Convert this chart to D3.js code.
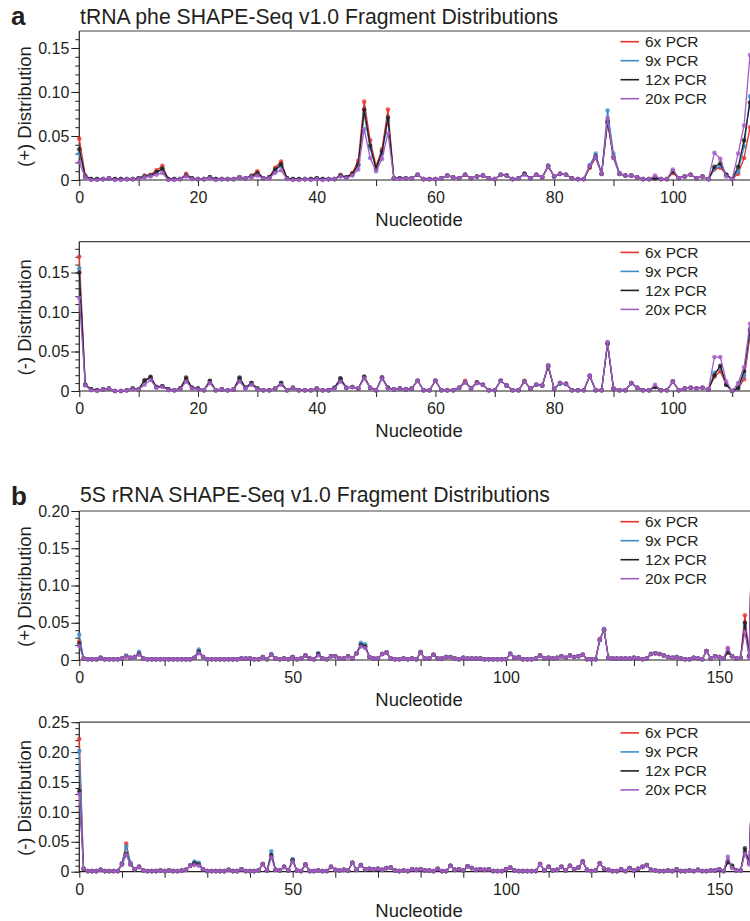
<!DOCTYPE html>
<html>
<head>
<meta charset="utf-8">
<script src="https://cdn.jsdelivr.net/npm/d3@7"></script>
<style>
  body { margin: 0; background: #fff; }
  svg { display: block; }
  text { font-family: "Liberation Sans", Arial, Helvetica, sans-serif; fill: #231f20; }
</style>
</head>
<body>
<svg id="chart" width="750" height="921"></svg>
<script>
// ---- series ----
const seriesNames = ["6x PCR", "9x PCR", "12x PCR", "20x PCR"];
const seriesColors = ["#e8322c", "#3a8fca", "#231f20", "#a45dc4"];

// ---- nucleotide positions ----
const trnaNucleotides = d3.range(0, 114);
const rrnaNucleotides = d3.range(0, 159);

// ---- tick labels ----
const trnaXTicks = [0, 20, 40, 60, 80, 100];
const trnaXMinorTicks = [10, 30, 50, 70, 90, 110];
const rrnaXTicks = [0, 50, 100, 150];
const rrnaXMinorTicks = [10, 20, 30, 40, 60, 70, 80, 90, 110, 120, 130, 140];
const trnaPlusYTicks = [0, 0.05, 0.10, 0.15];
const trnaMinusYTicks = [0, 0.05, 0.10, 0.15];
const rrnaPlusYTicks = [0, 0.05, 0.10, 0.15, 0.20];
const rrnaMinusYTicks = [0, 0.05, 0.10, 0.15, 0.20, 0.25];

// ---- tRNA phe, (+) channel ----
const trnaPlus6x = [
0.047,0.005,0.001,0.001,0.001,0.002,0.001,0.001,0.001,0.001,
0.002,0.005,0.006,0.011,0.016,0.001,0.001,0.001,0.007,0.002,
0.001,0.001,0.003,0.001,0.001,0.001,0.001,0.003,0.002,0.005,
0.010,0.002,0.003,0.014,0.021,0.002,0.001,0.001,0.001,0.001,
0.002,0.001,0.001,0.001,0.006,0.003,0.008,0.022,0.089,0.045,
0.016,0.035,0.080,0.002,0.002,0.002,0.002,0.006,0.001,0.001,
0.001,0.002,0.005,0.003,0.002,0.006,0.002,0.004,0.005,0.002,
0.001,0.006,0.005,0.001,0.002,0.007,0.002,0.006,0.003,0.015,
0.004,0.007,0.006,0.002,0.001,0.001,0.014,0.025,0.007,0.066,
0.025,0.007,0.005,0.005,0.003,0.001,0.001,0.002,0.001,0.001,
0.008,0.002,0.004,0.006,0.002,0.004,0.001,0.012,0.014,0.006,
0.001,0.007,0.025,0.060];
const trnaPlus9x = [
0.030,0.004,0.001,0.001,0.001,0.002,0.001,0.001,0.001,0.001,
0.002,0.004,0.005,0.008,0.012,0.001,0.001,0.001,0.005,0.002,
0.001,0.001,0.003,0.001,0.001,0.001,0.001,0.003,0.002,0.004,
0.007,0.002,0.003,0.011,0.016,0.002,0.001,0.001,0.001,0.001,
0.002,0.001,0.001,0.001,0.005,0.003,0.006,0.016,0.075,0.036,
0.012,0.030,0.068,0.002,0.002,0.002,0.002,0.006,0.001,0.001,
0.001,0.002,0.005,0.003,0.002,0.006,0.002,0.004,0.005,0.002,
0.001,0.006,0.005,0.001,0.002,0.007,0.002,0.006,0.003,0.016,
0.004,0.007,0.006,0.002,0.001,0.001,0.017,0.030,0.007,0.079,
0.030,0.008,0.005,0.005,0.003,0.001,0.001,0.002,0.001,0.001,
0.010,0.002,0.004,0.006,0.002,0.004,0.001,0.013,0.016,0.006,
0.001,0.010,0.038,0.095];
const trnaPlus12x = [
0.035,0.004,0.001,0.001,0.001,0.002,0.001,0.001,0.001,0.001,
0.002,0.004,0.005,0.009,0.013,0.001,0.001,0.001,0.005,0.002,
0.001,0.001,0.003,0.001,0.001,0.001,0.001,0.003,0.002,0.004,
0.008,0.002,0.003,0.012,0.018,0.002,0.001,0.001,0.001,0.001,
0.002,0.001,0.001,0.001,0.005,0.003,0.007,0.018,0.080,0.039,
0.013,0.032,0.071,0.002,0.002,0.002,0.002,0.006,0.001,0.001,
0.001,0.002,0.005,0.003,0.002,0.006,0.002,0.004,0.005,0.002,
0.001,0.006,0.005,0.001,0.002,0.007,0.002,0.006,0.003,0.016,
0.004,0.007,0.006,0.002,0.001,0.001,0.015,0.027,0.007,0.066,
0.026,0.007,0.005,0.005,0.003,0.001,0.001,0.002,0.001,0.001,
0.010,0.002,0.004,0.006,0.002,0.004,0.001,0.015,0.019,0.006,
0.001,0.015,0.045,0.088];
const trnaPlus20x = [
0.020,0.003,0.000,0.000,0.001,0.002,0.000,0.000,0.001,0.001,
0.001,0.003,0.004,0.006,0.008,0.000,0.000,0.001,0.004,0.001,
0.001,0.001,0.002,0.000,0.001,0.001,0.001,0.003,0.002,0.003,
0.005,0.002,0.002,0.008,0.011,0.001,0.000,0.000,0.001,0.000,
0.001,0.000,0.001,0.001,0.004,0.002,0.005,0.012,0.058,0.025,
0.010,0.024,0.053,0.002,0.001,0.002,0.002,0.006,0.001,0.001,
0.001,0.002,0.005,0.003,0.002,0.006,0.002,0.004,0.005,0.002,
0.001,0.006,0.005,0.001,0.002,0.006,0.002,0.006,0.003,0.016,
0.004,0.007,0.006,0.002,0.001,0.001,0.016,0.026,0.007,0.070,
0.026,0.007,0.005,0.005,0.003,0.001,0.001,0.005,0.001,0.001,
0.012,0.002,0.004,0.006,0.002,0.004,0.001,0.031,0.024,0.004,
0.001,0.030,0.062,0.142];

// ---- tRNA phe, (-) channel ----
const trnaMinus6x = [
0.170,0.008,0.002,0.001,0.002,0.003,0.000,0.000,0.001,0.003,
0.002,0.014,0.017,0.005,0.006,0.002,0.001,0.003,0.015,0.004,
0.003,0.001,0.012,0.001,0.002,0.001,0.002,0.015,0.004,0.010,
0.003,0.001,0.001,0.003,0.010,0.001,0.004,0.001,0.001,0.001,
0.003,0.001,0.001,0.004,0.015,0.004,0.005,0.003,0.018,0.004,
0.001,0.017,0.004,0.002,0.003,0.002,0.003,0.013,0.001,0.001,
0.013,0.001,0.001,0.001,0.004,0.013,0.003,0.011,0.008,0.001,
0.001,0.013,0.007,0.001,0.001,0.013,0.003,0.008,0.007,0.031,
0.003,0.010,0.009,0.001,0.001,0.001,0.019,0.001,0.001,0.060,
0.003,0.001,0.001,0.010,0.004,0.001,0.001,0.005,0.001,0.001,
0.012,0.001,0.003,0.004,0.003,0.004,0.002,0.018,0.025,0.008,
0.000,0.003,0.015,0.070];
const trnaMinus9x = [
0.155,0.008,0.002,0.001,0.002,0.003,0.000,0.000,0.001,0.003,
0.002,0.013,0.016,0.005,0.006,0.002,0.001,0.003,0.014,0.004,
0.003,0.001,0.012,0.001,0.002,0.001,0.002,0.016,0.004,0.010,
0.003,0.001,0.001,0.003,0.010,0.001,0.004,0.001,0.001,0.001,
0.003,0.001,0.001,0.004,0.015,0.004,0.005,0.003,0.017,0.004,
0.001,0.016,0.004,0.002,0.003,0.002,0.003,0.013,0.001,0.001,
0.013,0.001,0.001,0.001,0.004,0.011,0.003,0.010,0.008,0.001,
0.001,0.013,0.007,0.001,0.001,0.012,0.003,0.008,0.007,0.031,
0.003,0.009,0.009,0.001,0.001,0.001,0.019,0.001,0.001,0.061,
0.003,0.001,0.001,0.010,0.004,0.001,0.001,0.005,0.001,0.001,
0.012,0.001,0.003,0.004,0.003,0.004,0.002,0.023,0.030,0.008,
0.000,0.003,0.020,0.075];
const trnaMinus12x = [
0.150,0.008,0.002,0.001,0.002,0.003,0.000,0.000,0.001,0.003,
0.002,0.013,0.018,0.005,0.006,0.002,0.001,0.003,0.017,0.004,
0.003,0.001,0.013,0.001,0.002,0.001,0.002,0.017,0.004,0.010,
0.003,0.001,0.001,0.003,0.010,0.001,0.004,0.001,0.001,0.001,
0.003,0.001,0.001,0.004,0.016,0.004,0.005,0.003,0.018,0.004,
0.001,0.017,0.004,0.002,0.003,0.002,0.003,0.013,0.001,0.001,
0.013,0.001,0.001,0.001,0.004,0.011,0.003,0.011,0.008,0.001,
0.001,0.013,0.007,0.001,0.001,0.012,0.003,0.008,0.007,0.032,
0.003,0.010,0.009,0.001,0.001,0.001,0.019,0.001,0.001,0.060,
0.003,0.001,0.001,0.010,0.004,0.001,0.001,0.005,0.001,0.001,
0.012,0.001,0.003,0.004,0.003,0.004,0.002,0.020,0.032,0.008,
0.000,0.004,0.025,0.078];
const trnaMinus20x = [
0.118,0.007,0.001,0.000,0.002,0.003,0.000,0.000,0.001,0.002,
0.002,0.008,0.014,0.004,0.005,0.001,0.001,0.002,0.012,0.003,
0.002,0.001,0.010,0.001,0.002,0.001,0.002,0.012,0.003,0.008,
0.002,0.001,0.001,0.003,0.008,0.001,0.004,0.001,0.001,0.001,
0.003,0.001,0.001,0.003,0.012,0.004,0.005,0.003,0.016,0.004,
0.001,0.016,0.003,0.002,0.003,0.002,0.003,0.013,0.001,0.001,
0.013,0.001,0.001,0.001,0.004,0.011,0.003,0.010,0.008,0.001,
0.001,0.013,0.007,0.001,0.001,0.012,0.003,0.008,0.007,0.033,
0.003,0.010,0.009,0.001,0.001,0.001,0.020,0.001,0.001,0.062,
0.003,0.001,0.001,0.010,0.004,0.001,0.001,0.008,0.001,0.001,
0.012,0.001,0.003,0.004,0.003,0.004,0.002,0.043,0.043,0.012,
0.000,0.010,0.030,0.085];

// ---- 5S rRNA, (+) channel ----
const rrnaPlus6x = [
0.025,0.002,0.001,0.001,0.001,0.003,0.001,0.001,0.001,0.001,
0.002,0.005,0.003,0.004,0.009,0.002,0.001,0.001,0.001,0.001,
0.001,0.001,0.001,0.001,0.001,0.001,0.001,0.003,0.012,0.004,
0.001,0.001,0.001,0.001,0.001,0.001,0.001,0.001,0.002,0.002,
0.002,0.001,0.001,0.004,0.001,0.007,0.002,0.001,0.002,0.001,
0.004,0.001,0.002,0.006,0.002,0.001,0.008,0.002,0.001,0.005,
0.005,0.002,0.002,0.005,0.002,0.009,0.021,0.018,0.004,0.002,
0.002,0.008,0.010,0.002,0.001,0.001,0.002,0.001,0.002,0.001,
0.010,0.002,0.002,0.007,0.002,0.002,0.004,0.004,0.002,0.001,
0.003,0.002,0.002,0.002,0.002,0.001,0.001,0.001,0.001,0.001,
0.001,0.008,0.003,0.004,0.001,0.001,0.001,0.002,0.006,0.002,
0.003,0.002,0.003,0.005,0.003,0.006,0.004,0.005,0.007,0.001,
0.001,0.001,0.028,0.041,0.003,0.002,0.002,0.002,0.002,0.002,
0.003,0.002,0.001,0.002,0.008,0.009,0.008,0.006,0.004,0.003,
0.004,0.002,0.001,0.001,0.003,0.002,0.001,0.012,0.002,0.005,
0.004,0.002,0.015,0.005,0.002,0.003,0.060,0.006,0.270];
const rrnaPlus9x = [
0.034,0.002,0.001,0.001,0.001,0.003,0.001,0.001,0.001,0.001,
0.002,0.006,0.003,0.004,0.011,0.002,0.001,0.001,0.001,0.001,
0.001,0.001,0.001,0.001,0.001,0.001,0.001,0.003,0.014,0.004,
0.001,0.001,0.001,0.001,0.001,0.001,0.001,0.001,0.002,0.002,
0.002,0.001,0.001,0.004,0.001,0.008,0.002,0.001,0.002,0.001,
0.004,0.001,0.002,0.006,0.002,0.001,0.009,0.002,0.001,0.005,
0.005,0.002,0.002,0.005,0.002,0.009,0.023,0.021,0.004,0.002,
0.002,0.008,0.010,0.002,0.001,0.001,0.002,0.001,0.002,0.001,
0.011,0.002,0.002,0.007,0.002,0.002,0.004,0.004,0.002,0.001,
0.003,0.002,0.002,0.002,0.002,0.001,0.001,0.001,0.001,0.001,
0.001,0.009,0.003,0.004,0.001,0.001,0.001,0.002,0.006,0.002,
0.003,0.002,0.003,0.005,0.003,0.006,0.004,0.005,0.007,0.001,
0.001,0.001,0.027,0.042,0.003,0.002,0.002,0.002,0.002,0.002,
0.003,0.002,0.001,0.002,0.008,0.009,0.008,0.006,0.004,0.003,
0.004,0.002,0.001,0.001,0.003,0.002,0.001,0.012,0.002,0.005,
0.004,0.002,0.012,0.005,0.002,0.003,0.046,0.005,0.240];
const rrnaPlus12x = [
0.022,0.002,0.001,0.001,0.001,0.003,0.001,0.001,0.001,0.001,
0.002,0.005,0.003,0.004,0.008,0.002,0.001,0.001,0.001,0.001,
0.001,0.001,0.001,0.001,0.001,0.001,0.001,0.003,0.011,0.004,
0.001,0.001,0.001,0.001,0.001,0.001,0.001,0.001,0.002,0.002,
0.002,0.001,0.001,0.004,0.001,0.007,0.002,0.001,0.002,0.001,
0.004,0.001,0.002,0.006,0.002,0.001,0.008,0.002,0.001,0.005,
0.005,0.002,0.002,0.005,0.002,0.009,0.020,0.018,0.004,0.002,
0.002,0.008,0.010,0.002,0.001,0.001,0.002,0.001,0.002,0.001,
0.010,0.002,0.002,0.007,0.002,0.002,0.004,0.004,0.002,0.001,
0.003,0.002,0.002,0.002,0.002,0.001,0.001,0.001,0.001,0.001,
0.001,0.008,0.003,0.004,0.001,0.001,0.001,0.002,0.006,0.002,
0.003,0.002,0.003,0.005,0.003,0.006,0.004,0.005,0.007,0.001,
0.001,0.001,0.027,0.040,0.003,0.002,0.002,0.002,0.002,0.002,
0.003,0.002,0.001,0.002,0.008,0.009,0.008,0.006,0.004,0.003,
0.004,0.002,0.001,0.001,0.003,0.002,0.001,0.012,0.002,0.005,
0.004,0.002,0.010,0.005,0.002,0.003,0.050,0.005,0.250];
const rrnaPlus20x = [
0.019,0.002,0.001,0.001,0.001,0.003,0.001,0.001,0.001,0.001,
0.002,0.005,0.003,0.004,0.007,0.002,0.001,0.001,0.001,0.001,
0.001,0.001,0.001,0.001,0.001,0.001,0.001,0.003,0.009,0.004,
0.001,0.001,0.001,0.001,0.001,0.001,0.001,0.001,0.002,0.002,
0.002,0.001,0.001,0.004,0.001,0.007,0.002,0.001,0.002,0.001,
0.004,0.001,0.002,0.006,0.002,0.001,0.006,0.002,0.001,0.005,
0.005,0.002,0.002,0.005,0.002,0.009,0.018,0.016,0.004,0.002,
0.002,0.008,0.010,0.002,0.001,0.001,0.002,0.001,0.002,0.001,
0.010,0.002,0.002,0.007,0.002,0.002,0.004,0.004,0.002,0.001,
0.003,0.002,0.002,0.002,0.002,0.001,0.001,0.001,0.001,0.001,
0.001,0.008,0.003,0.004,0.001,0.001,0.001,0.002,0.006,0.002,
0.003,0.002,0.003,0.005,0.003,0.006,0.004,0.005,0.007,0.001,
0.001,0.001,0.027,0.041,0.003,0.002,0.002,0.002,0.002,0.002,
0.003,0.002,0.001,0.002,0.008,0.009,0.008,0.006,0.004,0.003,
0.004,0.002,0.001,0.001,0.003,0.002,0.001,0.012,0.002,0.005,
0.004,0.002,0.016,0.005,0.002,0.003,0.038,0.003,0.260];

// ---- 5S rRNA, (-) channel ----
const rrnaMinus6x = [
0.222,0.005,0.001,0.001,0.001,0.003,0.001,0.001,0.001,0.001,
0.014,0.047,0.013,0.004,0.008,0.002,0.001,0.001,0.001,0.002,
0.001,0.002,0.001,0.001,0.002,0.003,0.010,0.014,0.012,0.004,
0.001,0.001,0.001,0.001,0.001,0.003,0.001,0.001,0.004,0.001,
0.001,0.001,0.002,0.013,0.002,0.026,0.003,0.002,0.008,0.002,
0.019,0.002,0.001,0.012,0.001,0.001,0.002,0.001,0.001,0.008,
0.003,0.002,0.003,0.002,0.015,0.003,0.011,0.004,0.005,0.004,
0.005,0.003,0.006,0.007,0.002,0.001,0.002,0.001,0.004,0.003,
0.004,0.002,0.002,0.001,0.005,0.001,0.001,0.010,0.003,0.004,
0.002,0.009,0.006,0.003,0.004,0.003,0.004,0.001,0.001,0.001,
0.004,0.007,0.002,0.001,0.001,0.001,0.001,0.001,0.013,0.002,
0.008,0.002,0.003,0.008,0.002,0.010,0.004,0.007,0.017,0.003,
0.001,0.002,0.014,0.005,0.003,0.001,0.001,0.004,0.001,0.006,
0.002,0.005,0.008,0.011,0.003,0.002,0.001,0.001,0.002,0.001,
0.004,0.001,0.001,0.002,0.001,0.003,0.001,0.001,0.002,0.002,
0.004,0.001,0.018,0.008,0.002,0.002,0.034,0.015,0.220];
const rrnaMinus9x = [
0.202,0.005,0.001,0.001,0.001,0.003,0.001,0.001,0.001,0.001,
0.014,0.042,0.015,0.004,0.008,0.002,0.001,0.001,0.001,0.002,
0.001,0.002,0.001,0.001,0.002,0.003,0.011,0.017,0.015,0.004,
0.001,0.001,0.001,0.001,0.001,0.003,0.001,0.001,0.004,0.001,
0.001,0.001,0.002,0.013,0.002,0.034,0.003,0.002,0.008,0.002,
0.021,0.002,0.001,0.012,0.001,0.001,0.002,0.001,0.001,0.008,
0.003,0.002,0.003,0.002,0.015,0.003,0.011,0.004,0.005,0.004,
0.005,0.003,0.006,0.007,0.002,0.001,0.002,0.001,0.004,0.003,
0.004,0.002,0.002,0.001,0.005,0.001,0.001,0.010,0.003,0.004,
0.002,0.009,0.006,0.003,0.004,0.003,0.004,0.001,0.001,0.001,
0.004,0.007,0.002,0.001,0.001,0.001,0.001,0.001,0.013,0.002,
0.008,0.002,0.003,0.008,0.002,0.010,0.004,0.007,0.017,0.003,
0.001,0.002,0.014,0.005,0.003,0.001,0.001,0.004,0.001,0.006,
0.002,0.005,0.008,0.011,0.003,0.002,0.001,0.001,0.002,0.001,
0.004,0.001,0.001,0.002,0.001,0.003,0.001,0.001,0.002,0.002,
0.004,0.001,0.018,0.010,0.002,0.002,0.033,0.015,0.210];
const rrnaMinus12x = [
0.135,0.005,0.001,0.001,0.001,0.003,0.001,0.001,0.001,0.001,
0.012,0.030,0.012,0.004,0.008,0.002,0.001,0.001,0.001,0.002,
0.001,0.002,0.001,0.001,0.002,0.003,0.010,0.014,0.012,0.004,
0.001,0.001,0.001,0.001,0.001,0.003,0.001,0.001,0.004,0.001,
0.001,0.001,0.002,0.013,0.002,0.028,0.003,0.002,0.008,0.002,
0.019,0.002,0.001,0.012,0.001,0.001,0.002,0.001,0.001,0.008,
0.003,0.002,0.003,0.002,0.015,0.003,0.011,0.004,0.005,0.004,
0.005,0.003,0.006,0.007,0.002,0.001,0.002,0.001,0.004,0.003,
0.004,0.002,0.002,0.001,0.005,0.001,0.001,0.010,0.003,0.004,
0.002,0.009,0.006,0.003,0.004,0.003,0.004,0.001,0.001,0.001,
0.004,0.007,0.002,0.001,0.001,0.001,0.001,0.001,0.013,0.002,
0.008,0.002,0.003,0.008,0.002,0.010,0.004,0.007,0.017,0.003,
0.001,0.002,0.014,0.005,0.003,0.001,0.001,0.004,0.001,0.006,
0.002,0.005,0.008,0.011,0.003,0.002,0.001,0.001,0.002,0.001,
0.004,0.001,0.001,0.002,0.001,0.003,0.001,0.001,0.002,0.002,
0.004,0.001,0.016,0.010,0.002,0.002,0.039,0.015,0.220];
const rrnaMinus20x = [
0.130,0.005,0.001,0.001,0.001,0.003,0.001,0.001,0.001,0.001,
0.012,0.028,0.012,0.004,0.008,0.002,0.001,0.001,0.001,0.002,
0.001,0.002,0.001,0.001,0.002,0.003,0.010,0.011,0.010,0.004,
0.001,0.001,0.001,0.001,0.001,0.003,0.001,0.001,0.004,0.001,
0.001,0.001,0.002,0.013,0.002,0.024,0.003,0.002,0.008,0.002,
0.017,0.002,0.001,0.012,0.001,0.001,0.002,0.001,0.001,0.008,
0.003,0.002,0.003,0.002,0.015,0.003,0.011,0.004,0.005,0.004,
0.005,0.003,0.006,0.007,0.002,0.001,0.002,0.001,0.004,0.003,
0.004,0.002,0.002,0.001,0.005,0.001,0.001,0.010,0.003,0.004,
0.002,0.009,0.006,0.003,0.004,0.003,0.004,0.001,0.001,0.001,
0.004,0.007,0.002,0.001,0.001,0.001,0.001,0.001,0.013,0.002,
0.008,0.002,0.003,0.008,0.002,0.010,0.004,0.007,0.017,0.003,
0.001,0.002,0.014,0.005,0.003,0.001,0.001,0.004,0.001,0.006,
0.002,0.005,0.008,0.011,0.003,0.002,0.001,0.001,0.002,0.001,
0.004,0.001,0.001,0.002,0.001,0.003,0.001,0.001,0.002,0.002,
0.004,0.001,0.025,0.006,0.002,0.002,0.030,0.012,0.220];

// ---- layout ----
const svg = d3.select("#chart");
const plotLeft = 79.3, plotRight = 750;
const ink = "#231f20";
const fmtY = d => d === 0 ? "0" : d3.format(".2f")(d);

const panels = [
  { series: [trnaPlus6x, trnaPlus9x, trnaPlus12x, trnaPlus20x], nt: trnaNucleotides,
    xMax: 113, xTicks: trnaXTicks, xMinor: trnaXMinorTicks,
    yMax: 0.1693, yTicks: trnaPlusYTicks, top: 31, zero: 180, yLabel: "(+) Distribution" },
  { series: [trnaMinus6x, trnaMinus9x, trnaMinus12x, trnaMinus20x], nt: trnaNucleotides,
    xMax: 113, xTicks: trnaXTicks, xMinor: trnaXMinorTicks,
    yMax: 0.189, yTicks: trnaMinusYTicks, top: 241.7, zero: 391, yLabel: "(-) Distribution" },
  { series: [rrnaPlus6x, rrnaPlus9x, rrnaPlus12x, rrnaPlus20x], nt: rrnaNucleotides,
    xMax: 157.2, xTicks: rrnaXTicks, xMinor: rrnaXMinorTicks,
    yMax: 0.20, yTicks: rrnaPlusYTicks, top: 511, zero: 660, yLabel: "(+) Distribution" },
  { series: [rrnaMinus6x, rrnaMinus9x, rrnaMinus12x, rrnaMinus20x], nt: rrnaNucleotides,
    xMax: 157.2, xTicks: rrnaXTicks, xMinor: rrnaXMinorTicks,
    yMax: 0.25, yTicks: rrnaMinusYTicks, top: 722.2, zero: 871.7, yLabel: "(-) Distribution" }
];

// panel letters and titles
const headings = [
  { letter: "a", title: "tRNA phe SHAPE-Seq v1.0 Fragment Distributions", letterY: 25, titleY: 24 },
  { letter: "b", title: "5S rRNA SHAPE-Seq v1.0 Fragment Distributions", letterY: 505, titleY: 501.5 }
];
headings.forEach(h => {
  svg.append("text").attr("x", 11).attr("y", h.letterY)
    .attr("font-size", 26).attr("font-weight", "bold").text(h.letter);
  svg.append("text").attr("x", 80).attr("y", h.titleY)
    .attr("font-size", 21.2).text(h.title);
});

panels.forEach((p, pi) => {
  const x = d3.scaleLinear().domain([0, p.xMax]).range([plotLeft, plotRight]);
  const y = d3.scaleLinear().domain([0, p.yMax]).range([p.zero, p.top]);
  const g = svg.append("g");

  // minor y ticks every 0.01
  const yMinor = d3.range(0, p.yMax + 1e-9, 0.01).map(v => +v.toFixed(2));
  g.append("g").attr("transform", `translate(${plotLeft},0)`)
    .call(d3.axisLeft(y).tickValues(yMinor).tickSize(4).tickFormat(""))
    .call(a => a.select(".domain").remove())
    .call(a => a.selectAll("line").attr("stroke", ink));

  // major y ticks and labels
  g.append("g").attr("transform", `translate(${plotLeft},0)`)
    .call(d3.axisLeft(y).tickValues(p.yTicks).tickSize(8).tickPadding(2).tickFormat(fmtY))
    .call(a => a.select(".domain").remove())
    .call(a => a.selectAll("line").attr("stroke", ink))
    .call(a => a.selectAll("text").attr("font-size", 16)
      .attr("font-family", '"Liberation Sans", Arial, sans-serif').attr("fill", ink));

  // x ticks
  g.append("g").attr("transform", `translate(0,${p.zero})`)
    .call(d3.axisBottom(x).tickValues(p.xMinor).tickSize(6).tickFormat(""))
    .call(a => a.select(".domain").remove())
    .call(a => a.selectAll("line").attr("stroke", ink));
  g.append("g").attr("transform", `translate(0,${p.zero})`)
    .call(d3.axisBottom(x).tickValues(p.xTicks).tickSize(6).tickPadding(6).tickFormat(d3.format("d")))
    .call(a => a.select(".domain").remove())
    .call(a => a.selectAll("line").attr("stroke", ink))
    .call(a => a.selectAll("text").attr("font-size", 16)
      .attr("font-family", '"Liberation Sans", Arial, sans-serif').attr("fill", ink));

  // frame: y axis, x axis, top rule
  g.append("line").attr("x1", plotLeft).attr("x2", plotLeft).attr("y1", p.top).attr("y2", p.zero + 0.5)
    .attr("stroke", ink).attr("stroke-width", 1.2);
  g.append("line").attr("x1", plotLeft).attr("x2", plotRight).attr("y1", p.zero).attr("y2", p.zero)
    .attr("stroke", ink).attr("stroke-width", 1.2);
  g.append("line").attr("x1", plotLeft).attr("x2", plotRight).attr("y1", p.top).attr("y2", p.top)
    .attr("stroke", "#444").attr("stroke-width", 1.2);

  // axis titles
  svg.append("text").attr("x", 419).attr("y", p.zero + 45.5)
    .attr("text-anchor", "middle").attr("font-size", 18.5).text("Nucleotide");
  svg.append("text")
    .attr("transform", `translate(31,${(p.top + p.zero) / 2 + 1}) rotate(-90)`)
    .attr("text-anchor", "middle").attr("font-size", 18.5).text(p.yLabel);

  // data
  const clipId = "clip" + pi;
  svg.append("clipPath").attr("id", clipId).append("rect")
    .attr("x", plotLeft - 4).attr("y", p.top).attr("width", plotRight - plotLeft + 4).attr("height", p.zero - p.top + 4);
  const dataG = svg.append("g").attr("clip-path", `url(#${clipId})`);
  p.series.forEach((vals, si) => {
    const pts = p.nt.map((n, i) => ({ n, v: vals[i] }));
    const line = d3.line().x(d => x(d.n)).y(d => y(d.v));
    dataG.append("path").datum(pts).attr("d", line)
      .attr("fill", "none").attr("stroke", seriesColors[si]).attr("stroke-width", 1.3)
      .attr("stroke-linejoin", "round");
    dataG.selectAll(null).data(pts).enter().append("circle")
      .attr("cx", d => x(d.n)).attr("cy", d => y(d.v)).attr("r", 2.3)
      .attr("fill", seriesColors[si]).attr("fill-opacity", 0.8);
  });

  // legend
  const lg = svg.append("g");
  seriesNames.forEach((name, si) => {
    const cy = p.top + 10.7 + 19 * si;
    lg.append("line").attr("x1", 620.5).attr("x2", 639).attr("y1", cy).attr("y2", cy)
      .attr("stroke", seriesColors[si]).attr("stroke-width", 1.6);
    lg.append("text").attr("x", 645).attr("y", cy + 5.4).attr("font-size", 15.5).text(name);
  });
});
</script>
</body>
</html>
